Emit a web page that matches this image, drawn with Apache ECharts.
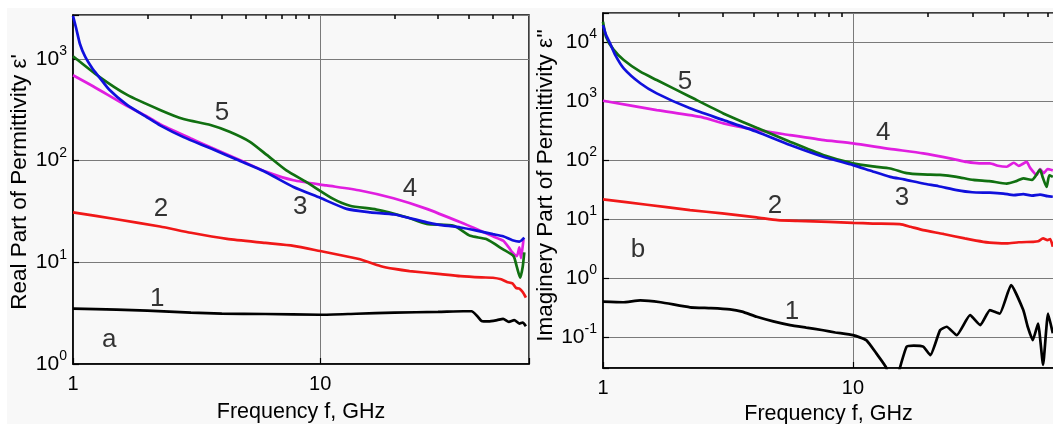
<!DOCTYPE html>
<html><head><meta charset="utf-8">
<script src="https://cdn.jsdelivr.net/npm/echarts@6/dist/echarts.min.js"></script>
<style>
html,body{margin:0;padding:0;background:#fff;}
#bg{position:absolute;left:7px;top:8px;width:1046px;height:416px;background:#f8f8f8;}
#c{position:absolute;left:0;top:0;width:1053px;height:424px;}
</style></head><body><div id="bg"></div><div id="c"></div>
<script>
// ---------- Data: panel (a) real part ----------
const re1 = [[1,3.5],[1.5,3.42],[2,3.35],[3,3.2],[4,3.13],[6,3.1],[10,3.05],[14,3.12],[20,3.2],[30,3.25],[38,3.3],[41,3.3],[43,3.0],[45,2.65],[48,2.62],[52,2.7],[55,2.78],[58,2.6],[61,2.7],[64,2.5],[66,2.55],[68,2.35]];
const re2 = [[1,31],[1.5,26.5],[2.25,22.5],[3,19.5],[4.2,17],[6,15.5],[7.8,14.5],[10,12.9],[12,11.8],[14.5,10.7],[17.5,9.2],[20,8.6],[23,8.2],[30,7.7],[37,7.3],[45,7.1],[50,7.05],[54,6.8],[57,6.4],[60,6.2],[62,5.6],[64,5.5],[66,5.1],[68,4.5]];
const re3 = [[1,2650],[1.03,2000],[1.067,1400],[1.12,1050],[1.2,800],[1.27,673],[1.4,500],[1.65,355],[2,265],[2.25,222],[2.8,170],[3.6,132],[4.7,100],[5.9,79],[7.8,55],[10,43],[12.8,33.5],[16,31],[20,29.5],[27,24.7],[30,23.5],[37,22],[43,20.5],[50,18.9],[55,18],[60,16.5],[64,16],[67,17.5]];
const re4 = [[1,690],[1.21,535],[1.65,345],[2,270],[2.25,228],[3,165],[3.6,135],[4.7,102],[6.1,77],[7.8,64],[10.6,57],[14.5,50.8],[19.8,42.6],[27,33.5],[37,24.7],[44.5,20.4],[50,18],[55,16.3],[58,14],[60,12.5],[62.5,11.5],[64,14],[65,11],[66.5,16.9]];
const re5 = [[1,1060],[1.27,673],[1.65,445],[2.25,315],[2.8,256],[3.6,224],[4.3,192],[5.2,153],[6.1,113],[7.3,80],[8.8,61.5],[11.3,42],[13.2,36],[16.9,33],[22.4,27.7],[27,23.8],[34.7,22.9],[40.5,18.2],[47,16.9],[55,13.4],[60.6,11.5],[62.5,9],[64.5,7.05],[66,9],[67,12.5]];
// ---------- Data: panel (b) imaginary part ----------
const im1 = [[1,0.40],[1.2,0.39],[1.41,0.42],[1.7,0.39],[2.23,0.32],[2.7,0.31],[3.22,0.295],[3.6,0.27],[4.12,0.221],[4.8,0.185],[5.6,0.16],[6.5,0.145],[7.6,0.131],[8.5,0.12],[10,0.108],[11.3,0.089],[12.4,0.053],[13.6,0.030],[14,0.015],[14.8,0.015],[15.4,0.030],[16.4,0.069],[17.5,0.072],[19.1,0.069],[20.4,0.0496],[22.3,0.131],[23.7,0.15],[26,0.108],[29.4,0.236],[32.3,0.16],[35.3,0.287],[38.6,0.25],[42.9,0.76],[48,0.287],[50,0.15],[52.4,0.089],[55,0.17],[57.6,0.034],[60.3,0.25],[63,0.116]];
const im2 = [[1,21.5],[1.5,17.5],[2.23,14.2],[3,12.5],[4.12,10.7],[5,9.6],[6,9.3],[8,9.0],[10,8.65],[12,8.4],[15.4,8.2],[17,7.4],[19.1,6.5],[23,5.6],[28,4.7],[33.2,4.12],[38,3.9],[41.2,3.87],[46,4.05],[52.4,4.12],[55,4.2],[57.6,4.7],[60,4.4],[61.5,4.6],[63,3.39]];
const im3 = [[1,19400],[1.03,13000],[1.067,9500],[1.12,6000],[1.21,3580],[1.41,2000],[1.64,1350],[2.23,751],[3.03,476],[4.12,302],[5.6,180],[7.6,114],[10,82],[12,64],[14.1,52],[16,47],[19.1,40],[22,36],[26,31],[30,28.5],[35.3,28],[40,27],[44,25.5],[48,26.5],[52,25],[56,26],[60,24.5],[63,23.9]];
const im4 = [[1,1010],[1.64,703],[2.5,530],[3.03,419],[4,330],[5.6,265],[7.5,220],[10,192],[14,155],[19.1,130],[25,105],[28.5,93],[32,88],[35.3,88],[38,80],[41.2,77],[44,90],[46,80],[49.5,93],[51,75],[54.3,56],[56,70],[58,60],[60,70],[63,67]];
const im5 = [[1,22000],[1.028,12300],[1.1,7500],[1.21,4950],[1.41,3140],[1.64,2270],[2.23,1180],[3.03,617],[4.12,352],[5.6,204],[7.6,122],[10,88],[12,78],[14.1,72],[16.4,60],[19,57],[22.3,56],[26,52],[30.3,46],[35,44],[41.2,40],[45,44],[48,49],[52,46],[56,68],[57.5,50],[59.5,35],[61,55],[63,52]];
// ---------- Curve labels (data coordinates) ----------
const annA = [[4.01,292,'5'],[2.27,33.5,'2'],[8.3,35,'3'],[23.1,52.8,'4'],[2.19,4.4,'1'],[1.4,1.73,'a']];
const annB = [[2.13,2100,'5'],[13.2,287,'4'],[15.7,22.7,'3'],[4.88,16.6,'2'],[5.7,0.265,'1'],[1.38,2.98,'b']];
const minorTicks = [2,3,4,5,6,7,8,9,20,30,40,50,60];
const colors = ['#000000','#f01818','#1010dc','#e01ee0','#117011'];

const FONT = '"Liberation Sans", Arial, Helvetica, sans-serif';
function pow10(v){ const e = Math.round(Math.log10(v)); return Math.abs(v/Math.pow(10,e)-1) < 1e-6 ? e : null; }
function yFmt(v){ const e = pow10(v); return e === null ? '' : '{b|10}{s|' + e + '}'; }
function xFmt(v){ const e = pow10(v); return e === null ? '' : String(Math.round(v)); }
const rich = {
  b:{fontSize:21, fontFamily:FONT, color:'#000'},
  s:{fontSize:14, fontFamily:FONT, color:'#000', padding:[0,0,15,0]}
};

function mainX(grid, max, gap){
  return {type:'log', logBase:10, gridIndex:grid, min:1, max:max,
    axisLine:{lineStyle:{color:'#000', width:1.5}},
    axisTick:{inside:true, length:6, lineStyle:{color:'#000', width:1.2}},
    axisLabel:{formatter:xFmt, fontSize:20, color:'#000', fontFamily:FONT, margin:10},
    splitLine:{show:true, lineStyle:{color:'#7a7a7a', width:1}},
    name:'Frequency f, GHz', nameLocation:'middle', nameGap:gap,
    nameTextStyle:{fontSize:21.5, color:'#000', fontFamily:FONT}};
}
function minorX(grid, max){
  return {type:'log', logBase:10, gridIndex:grid, min:1, max:max,
    axisLine:{show:false}, axisLabel:{show:false}, splitLine:{show:false},
    axisTick:{show:true, inside:true, length:4, customValues:minorTicks, lineStyle:{color:'#000', width:1.5}}};
}
function mainY(grid, min, max, name, shift){
  return {type:'log', logBase:10, gridIndex:grid, min:min, max:max,
    axisLine:{lineStyle:{color:'#000', width:1.5}},
    axisTick:{inside:true, length:6, lineStyle:{color:'#000', width:1.2}},
    axisLabel:{formatter:yFmt, rich:rich, margin:6},
    splitLine:{show:true, lineStyle:{color:'#7a7a7a', width:1}},
    name:name, nameLocation:'middle', nameGap:42,
    nameTextStyle:{fontSize:22.5, color:'#000', fontFamily:FONT, padding:[0,0,0,shift]}};
}
function lineS(data, ci, idx, sm){
  return {type:'line', xAxisIndex:idx[0], yAxisIndex:idx[1], data:data, showSymbol:false, symbol:'none',
    smooth:sm, clip:true, lineStyle:{color:colors[ci], width:2.7}, z:3};
}
function annS(data, idx){
  return {type:'scatter', xAxisIndex:idx[0], yAxisIndex:idx[1], data:data, symbolSize:1,
    itemStyle:{color:'rgba(0,0,0,0)'}, z:5,
    label:{show:true, position:'inside', formatter:p => p.data[2], fontSize:26, color:'#000', fontFamily:FONT}};
}

const chart = echarts.init(document.getElementById('c'), null, {renderer:'canvas'});
chart.setOption({
  animation:false,
  backgroundColor:'transparent',
  grid:[
    {left:73, top:15, width:456, height:349, show:true, borderColor:'#000', borderWidth:1.5, containLabel:false, outerBoundsMode:'none'},
    {left:603, top:13, width:451, height:355, show:true, borderColor:'#000', borderWidth:1.5, containLabel:false, outerBoundsMode:'none'}
  ],
  xAxis:[mainX(0,70,37), minorX(0,70), mainX(1,63.7,33), minorX(1,63.7)],
  yAxis:[mainY(0,1,2700,"Real Part of Permittivity \u03b5'",15), mainY(1,0.03,31000,"Imaginery Part of Permittivity \u03b5''",10)],
  series:[
    lineS(re1,0,[0,0],0.2), lineS(re2,1,[0,0],0.2), lineS(re4,3,[0,0],0.2), lineS(re5,4,[0,0],0.2), lineS(re3,2,[0,0],0.2),
    lineS(im1,0,[2,1],0.15), lineS(im2,1,[2,1],0.2), lineS(im4,3,[2,1],0.2), lineS(im5,4,[2,1],0.2), lineS(im3,2,[2,1],0.2),
    annS(annA,[0,0]), annS(annB,[2,1])
  ]
});
</script></body></html>
